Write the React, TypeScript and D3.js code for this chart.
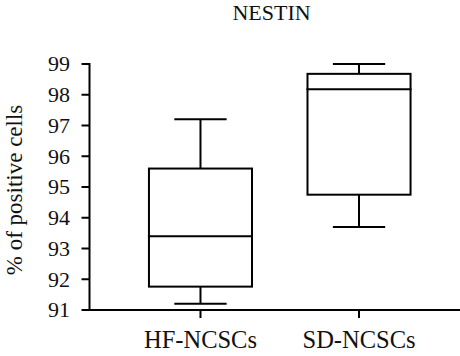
import React from "react";
import * as d3 from "d3";

const categories = ["HF-NCSCs", "SD-NCSCs"];
const whiskerLow = [91.2, 93.7];
const q1 = [91.76, 94.75];
const medians = [93.4, 98.18];
const q3 = [95.6, 98.68];
const whiskerHigh = [97.2, 99.0];
const yTicks = [91, 92, 93, 94, 95, 96, 97, 98, 99];
const title = "NESTIN";
const yLabel = "% of positive cells";

const W = 460;
const H = 356;
const left = 89.5;
const right = 470;
const top = 64;
const bottom = 310;
const font = "Liberation Serif, DejaVu Serif, Times New Roman, serif";

export default function App() {
  const y = d3.scaleLinear().domain([91, 99]).range([bottom, top]);
  const x = d3.scalePoint<string>().domain(categories).range([left, right]).padding(0.7);
  const step = x.step();
  const boxW = step * 0.65;
  const capW = step * 0.33;
  const sw = 2;
  const ts = { fontFamily: font };
  return (
    <svg width={W} height={H} style={{ position: "absolute", left: 0, top: 0 }}>
      <rect width={W} height={H} fill="#fff" />
      <text x={271.5} y={19.5} textAnchor="middle" style={ts} fontSize={22} fill="#111">{title}</text>
      <line x1={left} x2={left} y1={top - 1} y2={bottom + 1} stroke="#000" strokeWidth={sw} />
      {yTicks.map((t) => (
        <g key={t}>
          <line x1={left - 8} x2={left} y1={y(t)} y2={y(t)} stroke="#000" strokeWidth={sw} />
          <text x={left - 19.5} y={y(t)} dy="0.34em" textAnchor="end" style={ts} fontSize={22} fill="#111">{t}</text>
        </g>
      ))}
      <line x1={left - 1} x2={right} y1={bottom} y2={bottom} stroke="#000" strokeWidth={sw} />
      {categories.map((c) => (
        <g key={c}>
          <line x1={x(c)} x2={x(c)} y1={bottom} y2={bottom + 8} stroke="#000" strokeWidth={sw} />
          <text x={x(c)} y={347.5} textAnchor="middle" style={ts} fontSize={24.5} fill="#111">{c}</text>
        </g>
      ))}
      {categories.map((c, i) => {
        const cx = x(c) as number;
        return (
          <g key={c} stroke="#000" strokeWidth={sw} fill="none">
            <line x1={cx} x2={cx} y1={y(whiskerHigh[i])} y2={y(q3[i])} />
            <line x1={cx} x2={cx} y1={y(q1[i])} y2={y(whiskerLow[i])} />
            <line x1={cx - capW / 2} x2={cx + capW / 2} y1={y(whiskerHigh[i])} y2={y(whiskerHigh[i])} />
            <line x1={cx - capW / 2} x2={cx + capW / 2} y1={y(whiskerLow[i])} y2={y(whiskerLow[i])} />
            <rect x={cx - boxW / 2} y={y(q3[i])} width={boxW} height={y(q1[i]) - y(q3[i])} />
            <line x1={cx - boxW / 2 - 1} x2={cx + boxW / 2 + 1} y1={y(medians[i])} y2={y(medians[i])} />
          </g>
        );
      })}
      <text transform={`translate(21.5,190) rotate(-90)`} textAnchor="middle" style={ts} fontSize={23} fill="#111">{yLabel}</text>
    </svg>
  );
}
